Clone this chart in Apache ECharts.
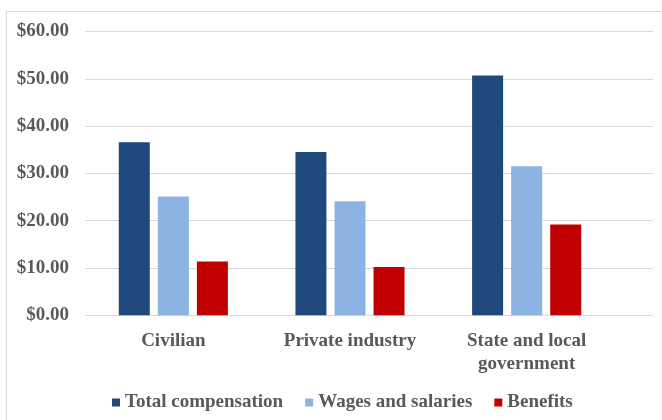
<!DOCTYPE html>
<html><head><meta charset="utf-8">
<script src="https://cdn.jsdelivr.net/npm/echarts@6/dist/echarts.min.js"></script>
<style>html,body{margin:0;padding:0;background:#fff}#c{width:662px;height:420px}</style>
</head><body><div id="c"></div>
<script>
const categories = ['Civilian', 'Private industry', 'State and local\ngovernment'];
const seriesNames = ['Total compensation', 'Wages and salaries', 'Benefits'];
const totalComp = [36.6, 34.5, 50.7];
const wages = [25.1, 24.1, 31.5];
const benefits = [11.4, 10.2, 19.2];
const colors = ['#1F497D', '#8DB3E2', '#C00000'];

const font = 'Liberation Serif';
const txt = '#595959';
const chart = echarts.init(document.getElementById('c'), null, {renderer: 'canvas'});
const values = [totalComp, wages, benefits];
chart.setOption({
  animation: false,
  graphic: [{type: 'rect', shape: {x: 6.5, y: 11.5, width: 700, height: 500}, style: {fill: 'none', stroke: '#d9d9d9', lineWidth: 1}, silent: true}],
  grid: [
    {left: 85, right: 47, top: 31.5, bottom: 104.7},
    {left: 85, right: 9, top: 31.5, bottom: 104.7}
  ],
  legend: {
    top: 388, left: 107, itemWidth: 8, itemHeight: 8, itemGap: 22,
    icon: 'rect',
    textStyle: {fontFamily: font, fontWeight: 'bold', fontSize: 19, color: txt},
    data: seriesNames
  },
  xAxis: [
    {type: 'category', gridIndex: 0, data: categories,
     axisLine: {show: false}, axisTick: {show: false},
     axisLabel: {fontFamily: font, fontWeight: 'bold', fontSize: 19, color: txt, margin: 14, lineHeight: 23}},
    {type: 'category', gridIndex: 1, data: categories, show: false}
  ],
  yAxis: [
    {type: 'value', gridIndex: 0, min: 0, max: 60, interval: 10, splitLine: {show: false},
     axisLine: {show: false}, axisTick: {show: false},
     axisLabel: {fontFamily: font, fontWeight: 'bold', fontSize: 19, color: txt, margin: 16,
       formatter: v => '$' + v.toFixed(2)}},
    {type: 'value', gridIndex: 1, min: 0, max: 60, interval: 10,
     axisLine: {show: false}, axisTick: {show: false}, axisLabel: {show: false},
     splitLine: {lineStyle: {color: '#d9d9d9', width: 1}}}
  ],
  series: seriesNames.map((n, i) => ({
    name: n, type: 'bar', xAxisIndex: 0, yAxisIndex: 0,
    data: values[i], barWidth: 31, barGap: '26%',
    itemStyle: {color: colors[i]}
  }))
});
</script></body></html>
